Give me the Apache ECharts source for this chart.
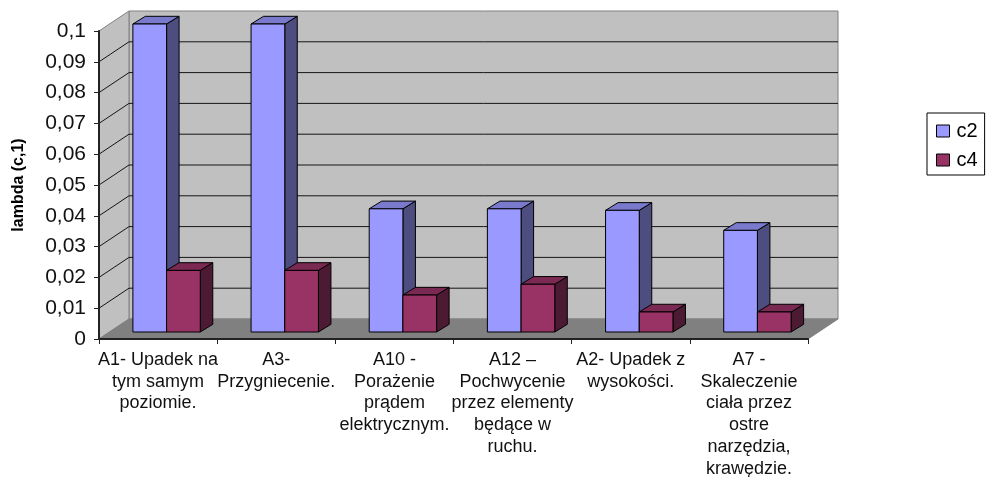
<!DOCTYPE html>
<html>
<head>
<meta charset="utf-8">
<style>html,body{margin:0;padding:0;background:#fff}#c{width:987px;height:477px}</style>
<script src="https://cdn.jsdelivr.net/npm/echarts@6/dist/echarts.min.js"></script>
</head>
<body>
<div id="c"></div>
<script>
const categories = [
  "A1- Upadek na\ntym samym\npoziomie.",
  "A3-\nPrzygniecenie.",
  "A10 -\nPorażenie\nprądem\nelektrycznym.",
  "A12 –\nPochwycenie\nprzez elementy\nbędące w\nruchu.",
  "A2- Upadek z\nwysokości.",
  "A7 -\nSkaleczenie\nciała przez\nostre\nnarzędzia,\nkrawędzie."
];
const c2 = [0.1, 0.1, 0.04, 0.04, 0.0395, 0.033];
const c4 = [0.02, 0.02, 0.012, 0.0155, 0.0065, 0.0065];
const yTicks = [0.01, 0.02, 0.03, 0.04, 0.05, 0.06, 0.07, 0.08, 0.09];

const DX = 30, DY = 20;           // depth of the chart box
const BX = 8.5, BY = 7;           // bar front inset from the front plane
const DBX = 12.5, DBY = 7.7;      // bar depth
const BW = 33.7;                  // bar width
const font = '"Liberation Sans", Arial, sans-serif';

function poly(points, fill, stroke, lw) {
  return { type: 'polygon', shape: { points }, style: { fill, stroke: stroke || 'none', lineWidth: lw === undefined ? 1 : lw } };
}

function bars(seriesIndex, front, top, side) {
  return function (params, api) {
    const i = api.value(0), v = api.value(1);
    const c = api.coord([i, v]), b = api.coord([i, 0]);
    const x0 = c[0] - BW + BX + seriesIndex * BW, x1 = x0 + BW;
    const yT = c[1] - BY, yB = b[1] - BY;
    const ln = '#000';
    return {
      type: 'group',
      children: [
        poly([[x1, yT], [x1 + DBX, yT - DBY], [x1 + DBX, yB - DBY], [x1, yB]], side, ln),
        poly([[x0, yT], [x0 + DBX, yT - DBY], [x1 + DBX, yT - DBY], [x1, yT]], top, ln),
        poly([[x0, yT], [x1, yT], [x1, yB], [x0, yB]], front, ln)
      ]
    };
  };
}

const chart = echarts.init(document.getElementById('c'), null, { renderer: 'canvas' });
chart.setOption({
  animation: false,
  backgroundColor: '#fff',
  textStyle: { fontFamily: font },
  grid: { left: 99, top: 31, right: 179, bottom: 138, outerBoundsMode: 'none', containLabel: false },
  legend: {
    left: 927, top: 113, orient: 'vertical',
    data: ['c2', 'c4'],
    icon: 'rect',
    itemWidth: 13, itemHeight: 12, itemGap: 9,
    padding: [8, 7, 5, 9],
    borderColor: '#000', borderWidth: 1,
    backgroundColor: '#fff',
    itemStyle: { borderColor: '#000', borderWidth: 1 },
    textStyle: { fontFamily: font, fontSize: 20, color: '#000', padding: [0, 0, 0, 2] }
  },
  xAxis: {
    type: 'category', data: categories, boundaryGap: true, z: 5,
    axisLine: { lineStyle: { color: '#222', width: 2 } },
    axisTick: { show: true, alignWithLabel: false, length: 5, lineStyle: { color: '#222' } },
    axisLabel: { interval: 0, hideOverlap: false, color: '#111', fontSize: 18, lineHeight: 21.8, margin: 10, fontFamily: font },
    splitLine: { show: false }
  },
  yAxis: {
    type: 'value', min: 0, max: 0.1, interval: 0.01, z: 5,
    name: 'lambda (c,1)', nameLocation: 'middle', nameGap: 72, nameRotate: 90,
    nameTextStyle: { fontFamily: font, fontSize: 16, fontWeight: 'bold', color: '#000' },
    axisLine: { show: true, lineStyle: { color: '#222', width: 2 } },
    axisTick: { show: true, length: 5, lineStyle: { color: '#222' } },
    axisLabel: {
      color: '#111', fontSize: 21, margin: 13, fontFamily: font,
      formatter: v => String(+v.toFixed(2)).replace('.', ',')
    },
    splitLine: { show: false }
  },
  series: [
    {
      type: 'custom', name: 'box', silent: true, z: 1, clip: false,
      coordinateSystem: 'cartesian2d', data: [[0, 0]],
      renderItem(params, api) {
        const g = params.coordSys;
        const xL = g.x, xR = g.x + g.width, yT = g.y, yB = g.y + g.height;
        return {
          type: 'group',
          children: [
            poly([[xL + DX, yT - DY], [xR + DX, yT - DY], [xR + DX, yB - DY], [xL + DX, yB - DY]], '#C0C0C0', '#808080', 1),
            poly([[xL, yT], [xL + DX, yT - DY], [xL + DX, yB - DY], [xL, yB]], '#C0C0C0', '#808080', 1),
            poly([[xL, yB], [xL + DX, yB - DY], [xR + DX, yB - DY], [xR, yB]], '#808080', '#808080', 1)
          ]
        };
      }
    },
    {
      type: 'custom', name: 'grid', silent: true, z: 2, clip: false,
      coordinateSystem: 'cartesian2d', data: yTicks.map(v => [0, v]),
      renderItem(params, api) {
        const g = params.coordSys;
        const y = api.coord([0, api.value(1)])[1];
        return {
          type: 'polyline',
          shape: { points: [[g.x, y], [g.x + DX, y - DY], [g.x + g.width + DX, y - DY]] },
          style: { stroke: '#151515', lineWidth: 1, fill: 'none' }
        };
      }
    },
    {
      type: 'custom', name: 'c2', z: 3, clip: false, coordinateSystem: 'cartesian2d',
      itemStyle: { color: '#9999FF' },
      data: c2.map((v, i) => [i, v]),
      renderItem: bars(0, '#9999FF', '#7A7ACC', '#4D4D80')
    },
    {
      type: 'custom', name: 'c4', z: 3, clip: false, coordinateSystem: 'cartesian2d',
      itemStyle: { color: '#993366' },
      data: c4.map((v, i) => [i, v]),
      renderItem: bars(1, '#993366', '#7A2952', '#4D1A33')
    }
  ]
});
</script>
</body>
</html>
